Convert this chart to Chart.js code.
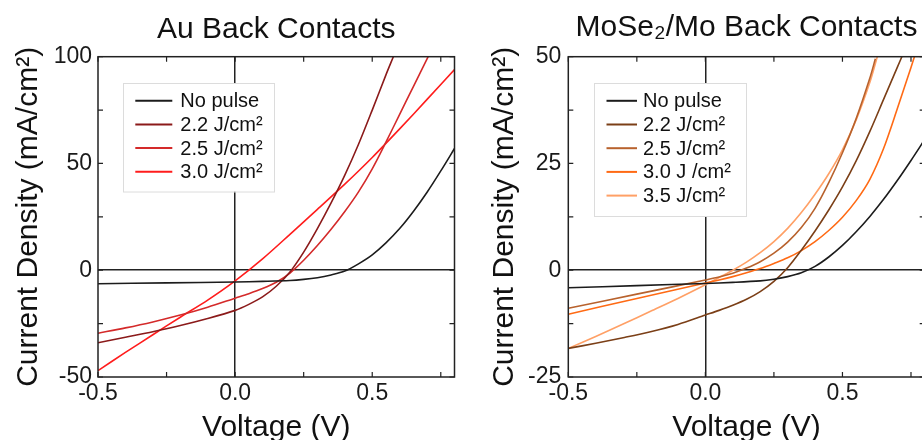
<!DOCTYPE html>
<html><head><meta charset="utf-8">
<script src="https://cdn.jsdelivr.net/npm/chart.js@4.4.1/dist/chart.umd.min.js"></script>
<style>
html,body{margin:0;padding:0;width:922px;height:440px;overflow:hidden;background:#fff;}
#w1{position:absolute;left:0;top:0;width:461px;height:440px;}
#w2{position:absolute;left:461px;top:0;width:470px;height:440px;}
</style></head><body>
<div id="w1"><canvas id="c1"></canvas></div>
<div id="w2"><canvas id="c2"></canvas></div>
<script>
// ---------- Au back contacts ----------
const auLabels = ['No pulse', '2.2 J/cm²', '2.5 J/cm²', '3.0 J/cm²'];
const auNoPulseV = [-0.5, -0.25, 0, 0.1, 0.2, 0.25, 0.3, 0.35, 0.4, 0.45, 0.5, 0.55, 0.6, 0.65, 0.7, 0.75, 0.8];
const auNoPulseJ = [-6.3, -5.9, -5.5, -5.2, -4.8, -4.3, -3.5, -2.2, -0.4, 3.0, 7.2, 12.8, 19.5, 27.5, 36.5, 46.5, 57];
const au22V = [-0.5, -0.4, -0.3, -0.2, -0.1, 0, 0.05, 0.1, 0.15, 0.2, 0.25, 0.3, 0.35, 0.4, 0.45, 0.5, 0.55, 0.577];
const au22J = [-34, -31.4, -28.8, -25.9, -22.6, -18.8, -16.0, -12.5, -7.5, -0.8, 8.5, 19.5, 31.5, 44.5, 59, 75, 91.5, 100];
const au25V = [-0.5, -0.4, -0.3, -0.2, -0.1, 0, 0.05, 0.1, 0.15, 0.2, 0.25, 0.3, 0.35, 0.4, 0.45, 0.5, 0.55, 0.6, 0.65, 0.704];
const au25J = [-29.5, -27.0, -24.2, -21.0, -17.3, -13.1, -11.0, -8.6, -5.6, -1.3, 4.7, 11.6, 19.2, 27.5, 36.7, 47.5, 60, 73, 86, 100];
const au30V = [-0.5, -0.4, -0.3, -0.2, -0.1, 0, 0.1, 0.2, 0.3, 0.4, 0.5, 0.6, 0.7, 0.8];
const au30J = [-47, -38.5, -30.2, -22.0, -14.0, -5.0, 5.3, 16.8, 28.5, 40.3, 52.8, 66.2, 80, 94];

// ---------- MoSe2/Mo back contacts ----------
const moLabels = ['No pulse', '2.2 J/cm²', '2.5 J/cm²', '3.0 J /cm²', '3.5 J/cm²'];
const moNoPulseV = [-0.5, -0.25, 0, 0.1, 0.2, 0.25, 0.3, 0.35, 0.4, 0.45, 0.5, 0.55, 0.6, 0.65, 0.7, 0.75, 0.8];
const moNoPulseJ = [-4.1, -3.6, -3.1, -2.85, -2.5, -2.1, -1.5, -0.6, 0.9, 3.1, 5.8, 9.0, 12.6, 16.6, 21.0, 25.7, 30.6];
const mo22V = [-0.5, -0.4, -0.3, -0.2, -0.1, 0, 0.05, 0.1, 0.15, 0.2, 0.25, 0.3, 0.35, 0.4, 0.45, 0.5, 0.55, 0.6, 0.65, 0.7, 0.72];
const mo22J = [-18.3, -17.1, -15.8, -14.4, -12.7, -10.5, -9.4, -8.2, -6.8, -5.0, -2.6, 0.6, 4.7, 9.2, 14.1, 19.5, 25.6, 32.5, 40, 47.5, 50.5];
const mo25V = [-0.5, -0.25, 0, 0.05, 0.1, 0.15, 0.2, 0.25, 0.3, 0.35, 0.4, 0.45, 0.5, 0.55, 0.6, 0.62];
const mo25J = [-8.9, -5.6, -2.3, -1.6, -0.7, 0.5, 2.0, 4.0, 6.6, 10.0, 14.5, 20.5, 27.5, 35.5, 45, 49.5];
const mo30V = [-0.5, -0.25, 0, 0.05, 0.1, 0.15, 0.2, 0.25, 0.3, 0.35, 0.4, 0.45, 0.5, 0.55, 0.6, 0.65, 0.7, 0.75, 0.765];
const mo30J = [-10.3, -6.6, -3.0, -2.3, -1.5, -0.6, 0.4, 1.6, 2.9, 4.6, 6.7, 9.3, 12.4, 16.3, 21.3, 28.5, 37.8, 47.5, 50.5];
const mo35V = [-0.5, -0.4, -0.3, -0.2, -0.1, 0, 0.05, 0.1, 0.15, 0.2, 0.25, 0.3, 0.35, 0.4, 0.45, 0.5, 0.55, 0.6, 0.627];
const mo35J = [-18.3, -15.5, -12.6, -9.6, -6.6, -3.4, -1.7, 0, 1.9, 4.1, 6.7, 9.8, 13.5, 17.8, 22.6, 28.2, 35.2, 44, 50];

// axis ranges / tick steps
const xRange = [-0.5, 0.8], xStep = 0.5;
const auYRange = [-50, 100], auYStep = 50;
const moYRange = [-25, 50], moYStep = 25;

const FONT = '"Liberation Sans", Arial, Helvetica, sans-serif';
Chart.defaults.font.family = FONT;

function pts(vs, js) { return vs.map((v, i) => ({x: v, y: js[i]})); }
function ds(label, vs, js, color) {
  return {label, data: pts(vs, js), borderColor: color, backgroundColor: color,
    borderWidth: 1.6, pointRadius: 0, tension: 0.3, fill: false};
}

function minorVals(scale) {
  const step = scale.options.ticks.stepSize / 2, out = [];
  for (let k = 0; ; k++) {
    const v = Math.round((scale.min + k * step) * 1000) / 1000;
    if (v > scale.max + 1e-9) break;
    out.push(v);
  }
  return out;
}

const framePlugin = {
  id: 'frame',
  afterDatasetsDraw(chart) {
    const {ctx, chartArea: a} = chart;
    const x = chart.scales.x, y = chart.scales.y;
    ctx.save();
    ctx.strokeStyle = '#222';
    ctx.lineWidth = 1.5;
    ctx.strokeRect(a.left, a.top, a.right - a.left, a.bottom - a.top);
    const L = 5;
    ctx.beginPath();
    minorVals(x).forEach(v => {
      const p = x.getPixelForValue(v);
      ctx.moveTo(p, a.bottom); ctx.lineTo(p, a.bottom - L);
      ctx.moveTo(p, a.top); ctx.lineTo(p, a.top + L);
    });
    minorVals(y).forEach(v => {
      const p = y.getPixelForValue(v);
      ctx.moveTo(a.left, p); ctx.lineTo(a.left + L, p);
      ctx.moveTo(a.right, p); ctx.lineTo(a.right - L, p);
    });
    ctx.lineWidth = 1.2;
    ctx.stroke();
    ctx.restore();
  }
};

const boxLegend = {
  id: 'boxLegend',
  afterDraw(chart, args, o) {
    const {ctx, chartArea: a} = chart;
    const x0 = a.left + o.dx, y0 = a.top + o.dy;
    ctx.save();
    ctx.fillStyle = '#fff';
    ctx.fillRect(x0, y0, o.w, o.h);
    ctx.strokeStyle = '#dcdcdc';
    ctx.lineWidth = 1;
    ctx.strokeRect(Math.round(x0) + 0.5, Math.round(y0) + 0.5, o.w, o.h);
    ctx.font = '20px ' + FONT;
    ctx.textBaseline = 'middle';
    ctx.textAlign = 'left';
    chart.data.datasets.forEach((d, i) => {
      const yy = y0 + o.firstRow + i * o.rowGap;
      ctx.strokeStyle = d.borderColor;
      ctx.lineWidth = 2;
      ctx.beginPath();
      ctx.moveTo(x0 + o.lineX, yy);
      ctx.lineTo(x0 + o.lineX + o.lineLen, yy);
      ctx.stroke();
      ctx.fillStyle = '#111';
      ctx.fillText(d.label, x0 + o.textX, yy + 1);
    });
    ctx.restore();
  }
};

function makeChart(id, title, titlePad, datasets, yRange, yStep, yWidth, yTitlePad, yTickPad, padRight, legendOpts) {
  return new Chart(document.getElementById(id), {
    type: 'line',
    data: {datasets},
    plugins: [framePlugin, boxLegend],
    options: {
      responsive: true, maintainAspectRatio: false, animation: false,
      devicePixelRatio: 1,
      layout: {padding: {left: 0, right: padRight, top: 0, bottom: 0}},
      plugins: {
        legend: {display: false}, tooltip: {enabled: false},
        title: {display: true, text: title, fullSize: false, color: '#111',
          font: {size: 30, weight: 'normal', lineHeight: 1}, padding: titlePad},
        boxLegend: legendOpts
      },
      scales: {
        x: {
          type: 'linear', min: xRange[0], max: xRange[1],
          afterFit: s => { s.height = 63; },
          border: {display: false},
          grid: {drawTicks: false, lineWidth: 1.5,
            color: c => (c.tick && c.tick.value === 0) ? '#222' : 'rgba(0,0,0,0)'},
          ticks: {stepSize: xStep, includeBounds: false, padding: 3, color: '#1a1a1a',
            font: {size: 23, lineHeight: 1.2}, maxRotation: 0,
            callback: v => Number(v).toFixed(1)},
          title: {display: true, text: 'Voltage (V)', color: '#111',
            font: {size: 30, lineHeight: 0.85}, padding: {top: 0, bottom: 0}}
        },
        y: {
          type: 'linear', min: yRange[0], max: yRange[1],
          afterFit: s => { s.width = yWidth; },
          border: {display: false},
          grid: {drawTicks: false, lineWidth: 1.5,
            color: c => (c.tick && c.tick.value === 0) ? '#222' : 'rgba(0,0,0,0)'},
          ticks: {stepSize: yStep, includeBounds: false, padding: yTickPad, color: '#1a1a1a',
            font: {size: 23, lineHeight: 1.2},
            callback: v => String(v)},
          title: {display: true, text: 'Current Density (mA/cm²)', color: '#111',
            font: {size: 30, lineHeight: 1}, padding: {top: yTitlePad, bottom: 0}}
        }
      }
    }
  });
}

makeChart('c1', 'Au Back Contacts', {top: 15, bottom: 11.7}, [
  ds(auLabels[0], auNoPulseV, auNoPulseJ, '#1c1c1c'),
  ds(auLabels[1], au22V, au22J, '#8b1a1a'),
  ds(auLabels[2], au25V, au25J, '#d42a2a'),
  ds(auLabels[3], au30V, au30J, '#ff1c1c')
], auYRange, auYStep, 98, 13.7, 6, 6.5,
  {dx: 25.3, dy: 26.5, w: 151, h: 108.5, firstRow: 17.5, rowGap: 23.7, lineX: 12, lineLen: 37, textX: 57});

makeChart('c2', 'MoSe₂/Mo Back Contacts', {top: 12.4, bottom: 14.3}, [
  ds(moLabels[0], moNoPulseV, moNoPulseJ, '#1c1c1c'),
  ds(moLabels[1], mo22V, mo22J, '#7b3f17'),
  ds(moLabels[2], mo25V, mo25J, '#b8622d'),
  ds(moLabels[3], mo30V, mo30J, '#ff6a14'),
  ds(moLabels[4], mo35V, mo35J, '#ffa066')
], moYRange, moYStep, 107.3, 29, 7, 6.3,
  {dx: 25.7, dy: 26.3, w: 152, h: 133, firstRow: 17.8, rowGap: 23.7, lineX: 12.5, lineLen: 30.5, textX: 49});
</script>
</body></html>
